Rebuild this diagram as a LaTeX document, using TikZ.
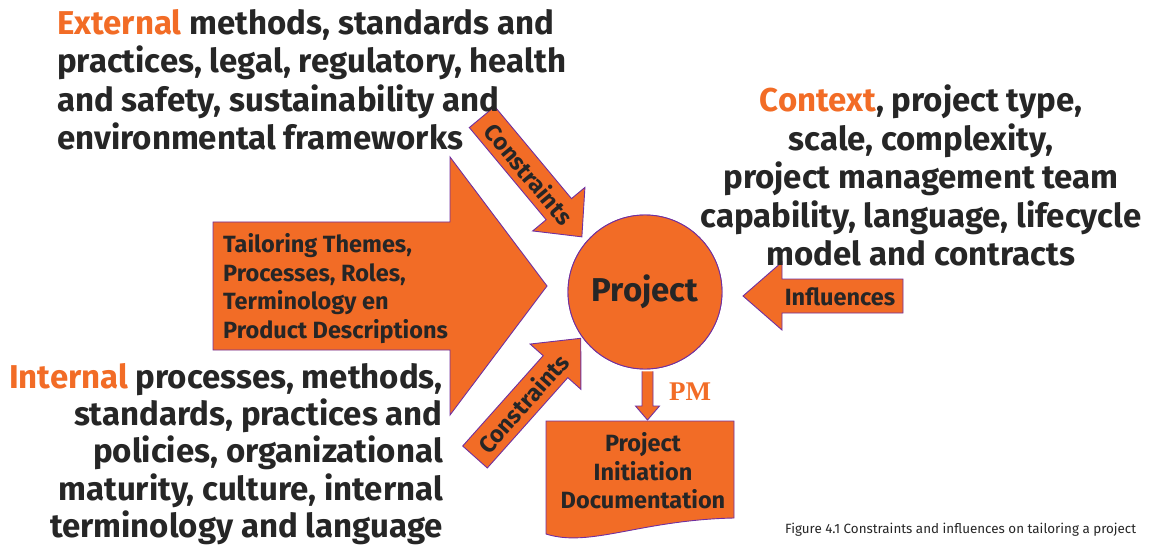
\documentclass[tikz,border=0pt]{standalone}
\usepackage{fontspec}
\setmainfont{Fira Sans}
\newfontfamily\pmfont{Liberation Serif}
\usetikzlibrary{calc}
\definecolor{fillorange}{RGB}{242,108,38}
\definecolor{edgepurple}{RGB}{112,48,160}
\definecolor{ink}{RGB}{38,38,38}
\definecolor{accent}{RGB}{242,108,38}
\begin{document}
\begin{tikzpicture}[x=1pt,y=-1pt,
  blockshape/.style={fill=fillorange,draw=edgepurple,line width=0.9pt,line join=miter},
  bigtext/.style={font=\fontsize{33}{38.4}\selectfont\bfseries,text=ink,inner sep=0pt},
  shapetext/.style={font=\fontsize{23.5}{28.8}\selectfont\bfseries,text=ink,inner sep=0pt},
  projtext/.style={font=\fontsize{33}{38}\selectfont\bfseries,text=ink},
]
\useasboundingbox (0,0) rectangle (1154,548);

% large tailoring arrow
\draw[blockshape] (213,222) -- (450,222) -- (450,157) -- (547,286) -- (450,415) -- (450,350) -- (213,350) -- cycle;
\node[shapetext, align=left, anchor=north west] (tailor) at (223,233)
  {Tailoring Themes,\\Processes, Roles,\\Terminology en\\Product Descriptions};

% upper constraints arrow
\begin{scope}[shift={(482,117)},rotate=-50.2]
  \draw[blockshape] (0,-16.5) -- (120,-16.5) -- (120,-34) -- (156,0) -- (120,34) -- (120,16.5) -- (0,16.5) -- cycle;
  \node[shapetext, rotate=-50.2] (cup) at (74,0) {Constraints};
\end{scope}

% lower constraints arrow
\begin{scope}[shift={(475,457)},rotate=48.3]
  \draw[blockshape] (0,-16.5) -- (121,-16.5) -- (121,-34) -- (159,0) -- (121,34) -- (121,16.5) -- (0,16.5) -- cycle;
  \node[shapetext, rotate=48.3] (clow) at (72,0) {Constraints};
\end{scope}

% influences arrow
\begin{scope}[shift={(903,296)},rotate=180]
  \draw[blockshape] (0,-17) -- (121,-17) -- (121,-34) -- (160,0) -- (121,34) -- (121,17) -- (0,17) -- cycle;
\end{scope}
\node[shapetext] (infl) at (840,297) {Influences};

% project circle, PM arrow and document
\coordinate (doctop) at (647.5,420);
\node[circle, blockshape, minimum size=154pt, inner sep=0pt, projtext] (proj) at (645,292) {Project};
\draw[blockshape] ($(proj.south -| doctop)+(-5.5,2)$) -- ($(doctop)+(-5.5,-14)$) -- ($(doctop)+(-12,-14)$)
  -- (doctop) -- ($(doctop)+(12,-14)$) -- ($(doctop)+(5.5,-14)$) -- ($(proj.south -| doctop)+(5.5,2)$);
\node[circle, blockshape, minimum size=154pt, inner sep=0pt, projtext] at (proj) {Project};
\node[text=accent, font=\pmfont\fontsize{27}{30}\selectfont\bfseries, anchor=base west, inner sep=0pt] (pm) at (669,400) {PM};

\draw[blockshape] (546,421) -- (734,421) -- (734,518) .. controls (640,520) and (590,548) .. (546,534) -- cycle;
\node[shapetext, align=center, anchor=north] (doc) at (643,432) {Project\\Initiation\\Documentation};

% surrounding text blocks
\node[bigtext, align=left, anchor=north west] (ext) at (57,9)
  {{\color{accent}External} methods, standards and\\practices, legal, regulatory, health\\and safety, sustainability and\\environmental frameworks};
\node[bigtext, align=center, anchor=north] (ctx) at (921,85)
  {{\color{accent}Context}, project type,\\scale, complexity,\\project management team\\capability, language, lifecycle\\model and contracts};
\node[bigtext, align=right, anchor=north east, font=\fontsize{33}{37.3}\selectfont\bfseries] (int) at (443,363)
  {{\color{accent}Internal} processes, methods,\\standards, practices and\\policies, organizational\\maturity, culture, internal\\terminology and language};

\node[text=ink, font=\fontsize{13.4}{15}\selectfont, anchor=base west, inner sep=0pt] (cap) at (785,533)
  {Figure 4.1 Constraints and influences on tailoring a project};
\end{tikzpicture}
\end{document}
